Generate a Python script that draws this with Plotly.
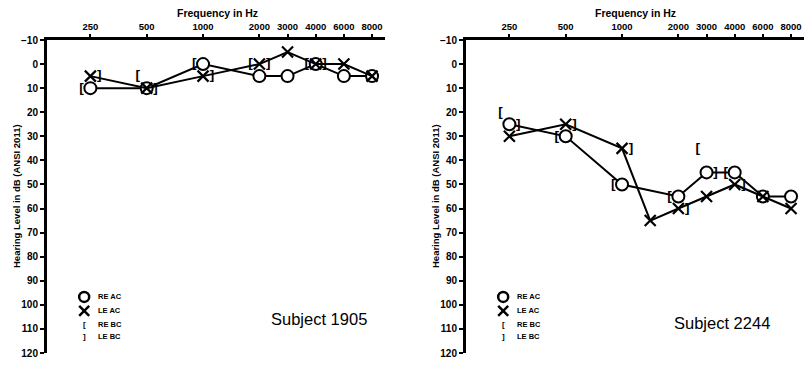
import plotly.graph_objects as go

# ---------------- data ----------------
tick_freqs = [250, 500, 1000, 2000, 3000, 4000, 6000, 8000]
tick_labels = ["250", "500", "1000", "2000", "3000", "4000", "6000", "8000"]
y_ticks = [-10, 0, 10, 20, 30, 40, 50, 60, 70, 80, 90, 100, 110, 120]

# Subject 1905
s1905_ac_freqs = [250, 500, 1000, 2000, 3000, 4000, 6000, 8000]
s1905_re_ac = [10, 10, 0, 5, 5, 0, 5, 5]
s1905_le_ac = [5, 10, 5, 0, -5, 0, 0, 5]
s1905_bc_freqs = [250, 500, 1000, 2000, 4000]
s1905_re_bc = [10, 5, 0, 0, 0]
s1905_le_bc = [5, 10, 5, 0, 0]

# Subject 2244
s2244_re_freqs = [250, 500, 1000, 2000, 3000, 4000, 6000, 8000]
s2244_re_ac = [25, 30, 50, 55, 45, 45, 55, 55]
s2244_le_freqs = [250, 500, 1000, 1500, 2000, 3000, 4000, 6000, 8000]
s2244_le_ac = [30, 25, 35, 65, 60, 55, 50, 55, 60]
s2244_bc_freqs = [250, 500, 1000, 2000, 3000, 4000]
s2244_re_bc = [20, 30, 50, 55, 35, 45]
s2244_le_bc = [25, 25, 35, 60, 45, 50]

legend_labels = ["RE AC", "LE AC", "RE BC", "LE BC"]
subjects = ["Subject 1905", "Subject 2244"]

# audiometric frequency axis: octaves equally spaced, half-octaves midway
AUDIO_POS = {250: 0, 500: 1, 750: 1.5, 1000: 2, 1500: 2.5, 2000: 3,
             3000: 3.5, 4000: 4, 6000: 4.5, 8000: 5}


def pos(freqs):
    return [AUDIO_POS[f] for f in freqs]


FONT = "Liberation Sans, Arial, sans-serif"
W, H = 804, 367

fig = go.Figure()

panels = [
    dict(xa="x", ya="y", ac=[(s1905_ac_freqs, s1905_re_ac), (s1905_ac_freqs, s1905_le_ac)],
         bc=[(s1905_bc_freqs, s1905_re_bc), (s1905_bc_freqs, s1905_le_bc)]),
    dict(xa="x2", ya="y2", ac=[(s2244_re_freqs, s2244_re_ac), (s2244_le_freqs, s2244_le_ac)],
         bc=[(s2244_bc_freqs, s2244_re_bc), (s2244_bc_freqs, s2244_le_bc)]),
]

for p in panels:
    (rf, rv), (lf, lv) = p["ac"]
    fig.add_trace(go.Scatter(
        x=pos(rf), y=rv, xaxis=p["xa"], yaxis=p["ya"], mode="lines+markers",
        line=dict(color="black", width=2),
        marker=dict(symbol="circle", size=12, color="white",
                    line=dict(color="black", width=2)),
        showlegend=False, cliponaxis=False))
    fig.add_trace(go.Scatter(
        x=pos(lf), y=lv, xaxis=p["xa"], yaxis=p["ya"], mode="lines+markers",
        line=dict(color="black", width=2),
        marker=dict(symbol="x-thin-open", size=11, color="black",
                    line=dict(color="black", width=2.2)),
        showlegend=False, cliponaxis=False))
    (bf, rb), (bf2, lb) = p["bc"]
    fig.add_trace(go.Scatter(
        x=pos(bf), y=rb, xaxis=p["xa"], yaxis=p["ya"], mode="markers+text",
        text=["["] * len(rb), textposition="middle left",
        textfont=dict(family=FONT, size=13.5, color="#000000", weight="bold"),
        marker=dict(size=9, color="rgba(0,0,0,0)"), showlegend=False, cliponaxis=False))
    fig.add_trace(go.Scatter(
        x=pos(bf2), y=lb, xaxis=p["xa"], yaxis=p["ya"], mode="markers+text",
        text=["]"] * len(lb), textposition="middle right",
        textfont=dict(family=FONT, size=13.5, color="#000000", weight="bold"),
        marker=dict(size=9, color="rgba(0,0,0,0)"), showlegend=False, cliponaxis=False))

xrange = [-0.77, 5.23]
yrange = [120, -10]
ytop, ybot = 1 - 40 / H, 1 - 353 / H

common_x = dict(range=xrange, side="top", tickvals=pos(tick_freqs), ticktext=tick_labels,
                showline=True, linecolor="black", linewidth=2.5, ticks="outside",
                ticklen=3, tickwidth=1.5, tickcolor="black", showgrid=False, zeroline=False,
                tickfont=dict(family=FONT, size=9.5, color="black", weight="bold"),
                fixedrange=True, automargin=False)
common_y = dict(range=yrange, tickvals=y_ticks, showline=True, linecolor="black",
                linewidth=3, ticks="outside", ticklen=4, tickwidth=1.5, tickcolor="black",
                showgrid=False, zeroline=False, domain=[ybot, ytop],
                tickfont=dict(family=FONT, size=10, color="black", weight="bold"),
                fixedrange=True, automargin=False)

fig.update_layout(
    width=W, height=H, margin=dict(l=0, r=0, t=0, b=0),
    paper_bgcolor="white", plot_bgcolor="white",
    xaxis=dict(domain=[47 / W, 385 / W], anchor="y", **common_x),
    yaxis=dict(anchor="x", **common_y),
    xaxis2=dict(domain=[466 / W, 1.0], anchor="y2", **common_x),
    yaxis2=dict(anchor="x2", **common_y),
    showlegend=False,
)

annotations = []
shapes = []
for i, (xa, ya, xc_px, ytitle_px, subj_x, subj_y) in enumerate([
        ("x", "y", 217, 16, 4.05, 106),
        ("x2", "y2", 635, 435, 3.78, 107.5)]):
    annotations.append(dict(text="Frequency in Hz", xref="paper", yref="paper",
                            x=xc_px / W, y=1 - 13 / H, xanchor="center", yanchor="middle",
                            showarrow=False,
                            font=dict(family=FONT, size=10.5, color="black", weight="bold")))
    annotations.append(dict(text="Hearing Level in dB (ANSI 2011)", xref="paper", yref="paper",
                            x=ytitle_px / W, y=1 - 196 / H, xanchor="center", yanchor="middle",
                            showarrow=False, textangle=-90,
                            font=dict(family=FONT, size=9.5, color="black", weight="bold")))
    annotations.append(dict(text=subjects[i], xref=xa, yref=ya, x=subj_x, y=subj_y,
                            xanchor="center", yanchor="middle", showarrow=False,
                            font=dict(family=FONT, size=16.5, color="black")))
    # legend
    lx = -0.11
    ly = [96.7, 102.5, 108, 113.3]
    shapes.append(dict(type="circle", xref=xa, yref=ya, xsizemode="pixel", ysizemode="pixel",
                       xanchor=lx, yanchor=ly[0], x0=-5, x1=5, y0=-5, y1=5,
                       line=dict(color="black", width=2.5)))
    shapes.append(dict(type="line", xref=xa, yref=ya, xsizemode="pixel", ysizemode="pixel",
                       xanchor=lx, yanchor=ly[1], x0=-5, x1=5, y0=-5, y1=5,
                       line=dict(color="black", width=2.5)))
    shapes.append(dict(type="line", xref=xa, yref=ya, xsizemode="pixel", ysizemode="pixel",
                       xanchor=lx, yanchor=ly[1], x0=-5, x1=5, y0=5, y1=-5,
                       line=dict(color="black", width=2.5)))
    for j, g in enumerate(["[", "]"]):
        annotations.append(dict(text=g, xref=xa, yref=ya, x=lx, y=ly[2 + j], showarrow=False,
                                xanchor="center", yanchor="middle",
                                font=dict(family=FONT, size=8, color="black", weight="bold")))
    for j, lab in enumerate(legend_labels):
        annotations.append(dict(text=lab, xref=xa, yref=ya, x=0.1, y=ly[j], xanchor="left",
                                yanchor="middle", showarrow=False,
                                font=dict(family=FONT, size=7.5, color="black", weight="bold")))

fig.update_layout(annotations=annotations, shapes=shapes)
fig.write_html("out.html", config={"displayModeBar": False},
               post_script="document.body.style.margin='0';document.body.style.padding='0';")
